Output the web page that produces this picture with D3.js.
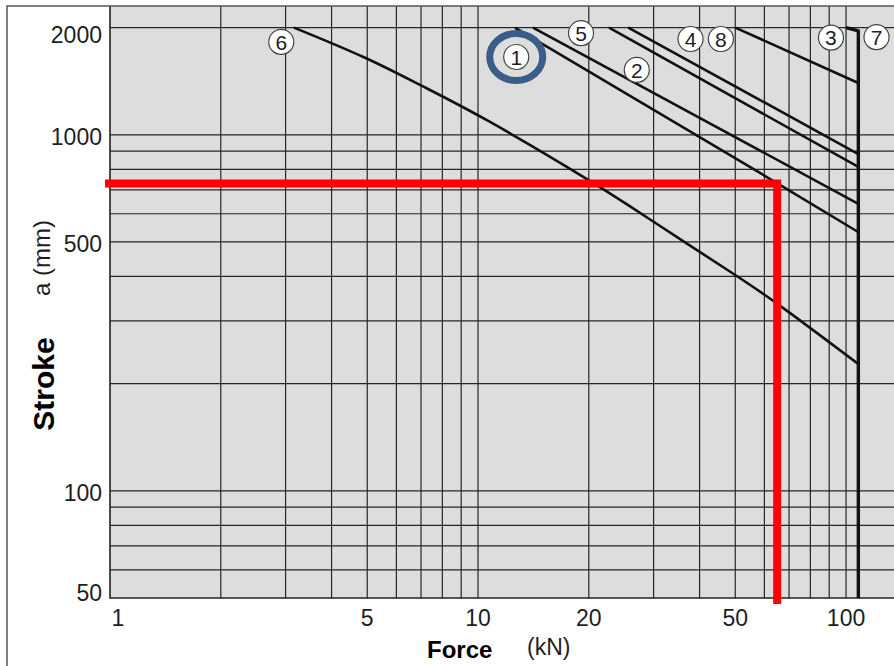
<!DOCTYPE html>
<html>
<head>
  <meta charset="utf-8">
  <style>
	body{
		margin: 0;
		background: #fff
	}
	.chart text{
		font-family: "Liberation Sans", Arial, sans-serif;
		fill: #1e1e1e
	}
	.chart .grid line{
		stroke: #262626;
		stroke-width: 1.2px
	}
	.chart .curve{
		fill: none;
		stroke: #111;
		stroke-width: 2.6px;
		stroke-linejoin: round
	}
	.chart .limit{
		stroke-width: 3.4px
	}
	.chart .marker circle{
		fill: #fff;
		stroke: #444;
		stroke-width: 1.2px
	}
	.chart .tick{
		font-size: 23px
	}
  </style>
</head>

<body>
	<div id="chart"></div>
	<script src="https://cdn.jsdelivr.net/npm/d3@7"></script>
	<script>
	  // tick labels and grid
	  var forceTicks  = [1, 5, 10, 20, 50, 100];
	  var strokeTicks = [50, 100, 500, 1000, 2000];
	  var forceGrid   = [2, 3, 4, 5, 6, 7, 8, 9, 10, 20, 30, 40, 50, 60, 70, 80, 90, 100];
	  var strokeGrid  = [60, 70, 80, 90, 100, 200, 300, 400, 500, 600, 700, 800, 900, 1000, 2000];

	  // curves, [force kN, stroke mm]
	  var curve6 = [[3.16, 2000], [5, 1647], [7, 1374], [10, 1144], [21.7, 712], [30, 569], [50, 404], [63.3, 344], [108, 227]];
	  var curve1 = [[12.6, 2000], [64.9, 732], [108, 533]];
	  var curve2 = [[14.1, 2000], [108, 640]];
	  var curve4 = [[22.7, 2000], [108, 812]];
	  var curve8 = [[25.6, 2000], [108, 883]];
	  var curve3 = [[50, 2000], [108, 1398]];
	  var curve7 = [[100, 2000], [108, 1957], [108, 50]];

	  // circled numbers
	  var markerText   = ["6", "1", "5", "2", "4", "8", "3", "7"];
	  var markerForce  = [2.92, 12.7, 19.05, 27.0, 37.8, 45.7, 91.0, 121];
	  var markerStroke = [1823, 1654, 1929, 1521, 1858, 1858, 1874, 1880];

	  // selected point (red)
	  var pickForce  = 65;
	  var pickStroke = 730;

	  (function () {
		  var
		    width   = 894,
		    height  = 666,
		    left    = 110,
		    top     = 6,
		    bottom  = 598,
		    xScale  = d3.scaleLog().domain([1, 135]).range([left, width]),
		    yScale  = d3.scaleLog().domain([50, 2300]).range([bottom, top]),
		    svg     = d3.select('#chart').append('svg'),
		    grid, line, markers;

		  svg
		    .attr('class', 'chart')
		    .attr('width', width)
		    .attr('height', height);

		  svg.append('rect')                          // plot background
		    .attr('x', left)
		    .attr('y', top)
		    .attr('width', width - left)
		    .attr('height', bottom - top)
		    .attr('fill', '#dddddd');

		  grid = svg.append('g').attr('class', 'grid');

		  grid.selectAll('line.v')
		    .data(forceGrid)
		    .enter().append('line')
		    .attr('class', 'v')
		    .attr('x1', function (d) { return xScale(d); })
		    .attr('x2', function (d) { return xScale(d); })
		    .attr('y1', top)
		    .attr('y2', bottom);

		  grid.selectAll('line.h')
		    .data(strokeGrid)
		    .enter().append('line')
		    .attr('class', 'h')
		    .attr('x1', left)
		    .attr('x2', width)
		    .attr('y1', function (d) { return yScale(d); })
		    .attr('y2', function (d) { return yScale(d); });

		  svg.append('path')                          // plot left + bottom edge
		    .attr('d', 'M' + left + ',' + top + 'V' + bottom + 'H' + width)
		    .attr('fill', 'none')
		    .attr('stroke', '#222')
		    .attr('stroke-width', 1.6);

		  svg.append('path')                          // outer frame
		    .attr('d', 'M7,' + height + 'V6H' + width)
		    .attr('fill', 'none')
		    .attr('stroke', '#555')
		    .attr('stroke-width', 1.5);

		  line = d3.line()
		    .x(function (d) { return xScale(d[0]); })
		    .y(function (d) { return yScale(d[1]); });

		  svg.append('path')                          // curve 6, smooth bend
		    .datum(curve6)
		    .attr('class', 'curve')
		    .attr('d', line.curve(d3.curveBasis));

		  svg.selectAll('path.straight')
		    .data([curve1, curve2, curve4, curve8, curve3])
		    .enter().append('path')
		    .attr('class', 'curve straight')
		    .attr('d', line.curve(d3.curveMonotoneX));

		  svg.append('path')                          // curve 7, force limit
		    .datum(curve7)
		    .attr('class', 'curve limit')
		    .attr('d', line.curve(d3.curveLinear));

		  svg.append('path')                          // red reading lines
		    .datum([[1, pickStroke], [pickForce, pickStroke], [pickForce, 50]])
		    .attr('d', function (d) {
		      var p = d.map(function (v) { return [xScale(v[0]), yScale(v[1])]; });
		      p[0][0] -= 5;
		      p[2][1] += 6;
		      return d3.line()(p);
		    })
		    .attr('fill', 'none')
		    .attr('stroke', '#ff0000')
		    .attr('stroke-width', 8)
		    .attr('stroke-linejoin', 'miter');

		  markers = svg.selectAll('g.marker')
		    .data(markerText)
		    .enter().append('g')
		    .attr('class', 'marker')
		    .attr('transform', function (d, i) {
		      return 'translate(' + xScale(markerForce[i]) + ',' + yScale(markerStroke[i]) + ')';
		    });

		  markers.append('circle')
		    .attr('r', 12.5);

		  markers.append('text')
		    .text(function (d) { return d; })
		    .attr('text-anchor', 'middle')
		    .attr('dy', '0.36em')
		    .attr('font-size', 21);

		  svg.append('ellipse')                       // highlight ring round 1
		    .attr('cx', xScale(markerForce[1]))
		    .attr('cy', yScale(markerStroke[1]))
		    .attr('rx', 26.5)
		    .attr('ry', 23.5)
		    .attr('fill', 'none')
		    .attr('stroke', '#3a5d8a')
		    .attr('stroke-width', 7);

		  svg.selectAll('text.ytick')                 // stroke tick labels
		    .data(strokeTicks)
		    .enter().append('text')
		    .attr('class', 'tick ytick')
		    .attr('x', 102)
		    .attr('y', function (d) {
		      return Math.min(Math.max(yScale(d), 33), 591) + 10;
		    })
		    .attr('text-anchor', 'end')
		    .text(function (d) { return d; });

		  svg.selectAll('text.xtick')                 // force tick labels
		    .data(forceTicks)
		    .enter().append('text')
		    .attr('class', 'tick xtick')
		    .attr('x', function (d) { return Math.max(xScale(d), 118); })
		    .attr('y', 626)
		    .attr('text-anchor', 'middle')
		    .text(function (d) { return d; });

		  svg.append('text')                          // x title
		    .text('Force')
		    .attr('x', 427)
		    .attr('y', 658)
		    .attr('font-size', 24)
		    .attr('font-weight', 'bold')
		    .style('fill', '#000');

		  svg.append('text')
		    .text('(kN)')
		    .attr('x', 527)
		    .attr('y', 655)
		    .attr('font-size', 23);

		  svg.append('text')                          // y title
		    .text('Stroke')
		    .attr('transform', 'translate(54,384) rotate(-90)')
		    .attr('text-anchor', 'middle')
		    .attr('font-size', 30)
		    .attr('font-weight', 'bold')
		    .style('fill', '#000');

		  svg.append('text')
		    .text('a (mm)')
		    .attr('transform', 'translate(50,258) rotate(-90)')
		    .attr('text-anchor', 'middle')
		    .attr('font-size', 24);
		})();
	</script>
</body>
</html>
